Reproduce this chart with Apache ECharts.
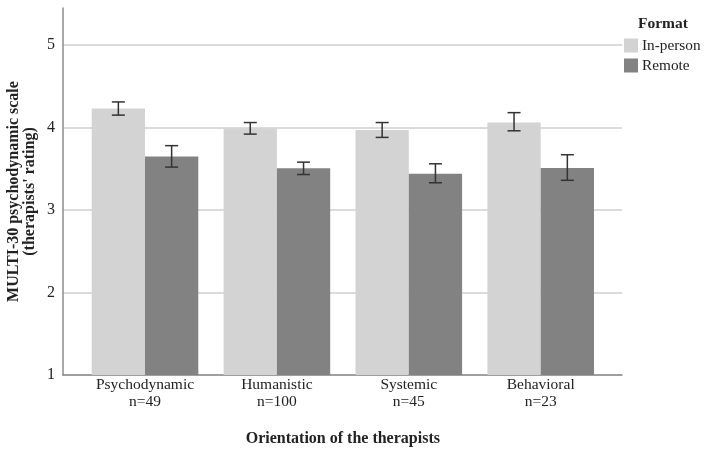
<!DOCTYPE html>
<html>
<head>
<meta charset="utf-8">
<script src="https://cdn.jsdelivr.net/npm/echarts@6/dist/echarts.min.js"></script>
<style>
  html, body { margin: 0; padding: 0; background: #fff; }
  #chart { width: 709px; height: 452px; }
</style>
</head>
<body>
<div id="chart"></div>
<script>
// therapist orientation groups
var categories = ['Psychodynamic\nn=49', 'Humanistic\nn=100', 'Systemic\nn=45', 'Behavioral\nn=23'];
var seriesNames = ['In-person', 'Remote'];
// means
var inPerson = [4.23, 3.99, 3.97, 4.06];
var remote = [3.65, 3.505, 3.44, 3.51];
// error bar ends
var inPersonLow = [4.15, 3.92, 3.88, 3.96];
var inPersonHigh = [4.31, 4.06, 4.06, 4.18];
var remoteLow = [3.52, 3.43, 3.33, 3.36];
var remoteHigh = [3.78, 3.58, 3.56, 3.67];
var yTicks = [1, 2, 3, 4, 5];

var font = 'Liberation Serif';
var colors = ['#d3d3d3', '#828282'];

var chart = echarts.init(document.getElementById('chart'));

function errorSeries(lows, highs, side) {
    var data = lows.map(function (v, i) { return [i, v, highs[i]]; });
    return {
        type: 'custom',
        xAxisIndex: 2,
        yAxisIndex: 2,
        z: 10,
        silent: true,
        data: data,
        renderItem: function (params, api) {
            var idx = api.value(0);
            var lo = api.coord([idx, api.value(1)]);
            var hi = api.coord([idx, api.value(2)]);
            var band = api.size([1, 0])[0];
            var bw = band * 0.404;
            var x = lo[0] + side * bw / 2;
            var cap = 6.5;
            var style = { stroke: '#333', lineWidth: 1.5 };
            return {
                type: 'group',
                children: [
                    { type: 'line', shape: { x1: x, y1: lo[1], x2: x, y2: hi[1] }, style: style },
                    { type: 'line', shape: { x1: x - cap, y1: lo[1], x2: x + cap, y2: lo[1] }, style: style },
                    { type: 'line', shape: { x1: x - cap, y1: hi[1], x2: x + cap, y2: hi[1] }, style: style }
                ]
            };
        }
    };
}

var option = {
    animation: false,
    backgroundColor: '#fff',
    textStyle: { fontFamily: font },
    title: {
        text: 'Format',
        left: 638,
        top: 16,
        padding: 0,
        textStyle: { fontFamily: font, fontWeight: 'bold', fontSize: 15.5, color: '#222' }
    },
    legend: {
        data: seriesNames,
        orient: 'vertical',
        left: 624,
        top: 38,
        padding: 0,
        itemWidth: 14,
        itemHeight: 14,
        itemGap: 5,
        icon: 'rect',
        textStyle: { fontFamily: font, fontSize: 15.3, color: '#222', lineHeight: 15, padding: [0, 0, 0, -1] }
    },
    grid: [
        // frame: axis lines only
        { left: 63, width: 559, top: 8, height: 367, outerBoundsMode: 'none' },
        // value scale with gridlines
        { left: 63, width: 559, top: 45, height: 330, outerBoundsMode: 'none' },
        // bars
        { left: 79.05, width: 527.6, top: 45, height: 330, outerBoundsMode: 'none' }
    ],
    xAxis: [
        {
            gridIndex: 0, type: 'value', min: 0, max: 1,
            axisLine: { show: true, lineStyle: { color: '#8c8c8c', width: 1.5 } },
            axisTick: { show: false }, axisLabel: { show: false }, splitLine: { show: false }
        },
        {
            gridIndex: 1, type: 'value', min: 0, max: 1, show: false
        },
        {
            gridIndex: 2, type: 'category', data: categories,
            axisLine: { show: false }, axisTick: { show: false },
            axisLabel: { fontFamily: font, fontSize: 15.5, color: '#222', lineHeight: 16.5, margin: 2 },
            name: 'Orientation of the therapists',
            nameLocation: 'middle',
            nameGap: 56,
            nameTextStyle: { fontFamily: font, fontWeight: 'bold', fontSize: 16, color: '#222' }
        }
    ],
    yAxis: [
        {
            gridIndex: 0, type: 'value', min: 0, max: 1,
            axisLine: { show: true, lineStyle: { color: '#8c8c8c', width: 1.5 } },
            axisTick: { show: false }, axisLabel: { show: false }, splitLine: { show: false },
            name: "MULTI-30 psychodynamic scale\n(therapists' rating)",
            nameLocation: 'middle',
            nameRotate: 90,
            nameGap: 25,
            nameTextStyle: { fontFamily: font, fontWeight: 'bold', fontSize: 16, color: '#222', lineHeight: 16 }
        },
        {
            gridIndex: 1, type: 'value', min: yTicks[0], max: yTicks[yTicks.length - 1], interval: 1,
            axisLine: { show: false }, axisTick: { show: false },
            axisLabel: { fontFamily: font, fontSize: 16, color: '#222', margin: 8 },
            splitLine: { show: true, lineStyle: { color: '#cfcfcf', width: 1.5 } }
        },
        {
            gridIndex: 2, type: 'value', min: yTicks[0], max: yTicks[yTicks.length - 1], show: false
        }
    ],
    series: [
        {
            name: seriesNames[0], type: 'bar', xAxisIndex: 2, yAxisIndex: 2,
            data: inPerson, barGap: 0, barCategoryGap: '19.2%',
            itemStyle: { color: colors[0] }
        },
        {
            name: seriesNames[1], type: 'bar', xAxisIndex: 2, yAxisIndex: 2,
            data: remote, barGap: 0, barCategoryGap: '19.2%',
            itemStyle: { color: colors[1] }
        },
        errorSeries(inPersonLow, inPersonHigh, -1),
        errorSeries(remoteLow, remoteHigh, 1)
    ]
};

chart.setOption(option);
</script>
</body>
</html>
